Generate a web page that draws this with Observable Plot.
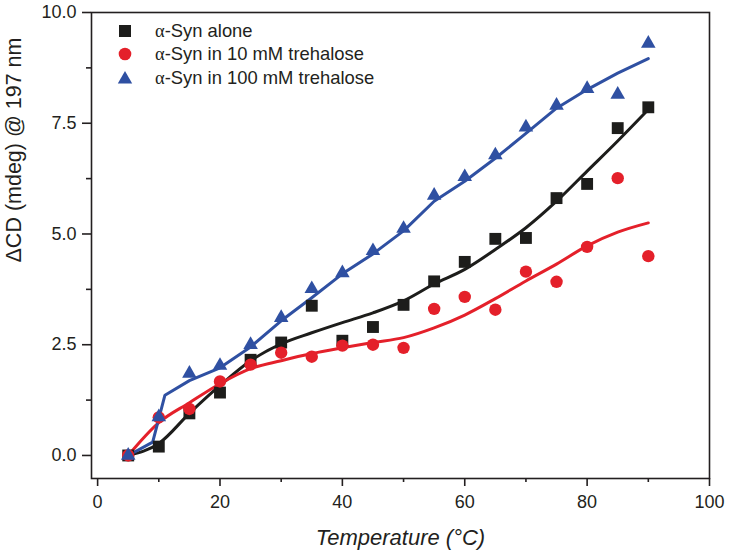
<!DOCTYPE html>
<html>
<head>
<meta charset="utf-8">
<script src="https://cdn.jsdelivr.net/npm/d3@7"></script>
<script src="https://cdn.jsdelivr.net/npm/@observablehq/plot@0.6"></script>
<style>
  body { margin: 0; background: #fff; }
  #wrap { position: relative; width: 729px; height: 553px; font-family: "Liberation Sans", Arial, sans-serif; color: #231f20; }
  #legend { position: absolute; left: 114px; top: 19px; font-size: 18.4px; line-height: 23.5px; }
  #legend .row { display: flex; align-items: center; height: 23.5px; }
  #legend svg { width: 22px; height: 22px; margin-right: 19px; }
  .alpha { font-family: "Liberation Serif", "Times New Roman", serif; }
</style>
</head>
<body>
<div id="wrap"></div>
<script>
// Measured data (temperature in °C, ΔCD in mdeg @ 197 nm)
const temps = [5, 10, 15, 20, 25, 30, 35, 40, 45, 50, 55, 60, 65, 70, 75, 80, 85, 90];
const synAlone = [0, 0.2, 0.95, 1.42, 2.16, 2.55, 3.38, 2.59, 2.9, 3.40, 3.93, 4.37, 4.89, 4.91, 5.81, 6.13, 7.39, 7.86];
const syn10 = [0, 0.86, 1.05, 1.67, 2.05, 2.32, 2.23, 2.48, 2.5, 2.43, 3.31, 3.58, 3.29, 4.15, 3.92, 4.71, 6.26, 4.50];
const syn100 = [0, 0.87, 1.85, 2.03, 2.5, 3.11, 3.76, 4.12, 4.62, 5.12, 5.87, 6.29, 6.78, 7.41, 7.9, 8.28, 8.15, 9.3];

// Fitted curves
const fitTemps = [5, 10, 15, 20, 25, 30, 35, 40, 45, 50, 55, 60, 65, 70, 75, 80, 85, 90];
const fitAlone = [0, 0.27, 0.95, 1.58, 2.14, 2.52, 2.77, 3.0, 3.22, 3.49, 3.87, 4.2, 4.65, 5.14, 5.74, 6.42, 7.1, 7.81];
const fit10 = [0, 0.74, 1.19, 1.62, 1.96, 2.14, 2.3, 2.43, 2.55, 2.66, 2.88, 3.17, 3.54, 3.94, 4.32, 4.73, 5.04, 5.25];
const fit100Temps = [5, 9, 11, 15, 20, 25, 30, 35, 40, 45, 50, 55, 60, 65, 70, 75, 80, 85, 90];
const fit100 = [0, 0.3, 1.36, 1.69, 1.98, 2.45, 3.04, 3.56, 4.1, 4.55, 5.07, 5.74, 6.19, 6.71, 7.27, 7.84, 8.26, 8.63, 8.96];

const seriesNames = ["α-Syn alone", "α-Syn in 10 mM trehalose", "α-Syn in 100 mM trehalose"];
const colors = ["#1d1d1b", "#e4202a", "#2f50a2"];

const xTicks = [0, 20, 40, 60, 80, 100];
const xMinor = [10, 30, 50, 70, 90];
const yTicks = [0, 2.5, 5, 7.5, 10];
const yMinor = [1.25, 3.75, 6.25, 8.75];

const pts = (xs, ys) => xs.map((x, i) => ({x, y: ys[i]}));
const ink = "#231f20";

const chart = Plot.plot({
  width: 729, height: 553,
  marginLeft: 91, marginRight: 20, marginTop: 12, marginBottom: 75,
  x: {domain: [-1, 100]},
  y: {domain: [-0.52, 10]},
  style: {fontFamily: '"Liberation Sans", Arial, sans-serif', fontSize: "18px", color: ink, background: "#fff"},
  marks: [
    Plot.line(pts(fitTemps, fitAlone), {x: "x", y: "y", stroke: colors[0], strokeWidth: 3, curve: "monotone-x"}),
    Plot.line(pts(fitTemps, fit10), {x: "x", y: "y", stroke: colors[1], strokeWidth: 3, curve: "monotone-x"}),
    Plot.line(pts(fit100Temps, fit100), {x: "x", y: "y", stroke: colors[2], strokeWidth: 3, curve: "linear"}),
    Plot.dot(pts(temps, synAlone), {x: "x", y: "y", symbol: "square", r: 6.7, fill: colors[0], stroke: "none"}),
    Plot.dot(pts(temps, syn10), {x: "x", y: "y", symbol: "circle", r: 6.2, fill: colors[1], stroke: "none"}),
    Plot.dot(pts(temps, syn100), {x: "x", y: "y", symbol: "triangle", r: 5.4, fill: colors[2], stroke: "none"}),
    Plot.frame({stroke: ink, strokeWidth: 1.6}),
    Plot.axisX({ticks: xTicks, tickSize: 8, tickPadding: 9, tickFormat: d => String(d), label: null, strokeWidth: 1.6, fill: ink}),
    Plot.axisX({ticks: xMinor, tickSize: 4, text: null, label: null, strokeWidth: 1.6}),
    Plot.axisY({ticks: yTicks, tickSize: 9, tickPadding: 6, tickFormat: d => d.toFixed(1), label: null, strokeWidth: 1.6, fill: ink}),
    Plot.axisY({ticks: yMinor, tickSize: 5, text: null, label: null, strokeWidth: 1.6}),
    Plot.text(["Temperature (°C)"], {frameAnchor: "bottom", dy: 59, lineAnchor: "middle", fontSize: 22, fontStyle: "italic", fill: ink}),
    Plot.text(["ΔCD (mdeg) @ 197 nm"], {frameAnchor: "left", rotate: -90, dx: -77, dy: 17, lineAnchor: "middle", fontSize: 21.5, fill: ink})
  ]
});

const wrap = document.getElementById("wrap");
wrap.appendChild(chart);

// Legend overlay
const legend = document.createElement("div");
legend.id = "legend";
const symbolSvg = [
  `<rect x="5" y="5" width="12" height="12" fill="${colors[0]}"/>`,
  `<circle cx="11" cy="11" r="6.3" fill="${colors[1]}"/>`,
  `<path d="M11 4 L18.2 16.5 L3.8 16.5 Z" fill="${colors[2]}"/>`
];
seriesNames.forEach((name, i) => {
  const row = document.createElement("div");
  row.className = "row";
  const rest = name.slice(1);
  row.innerHTML = `<svg viewBox="0 0 22 22">${symbolSvg[i]}</svg><span><span class="alpha">α</span>${rest}</span>`;
  legend.appendChild(row);
});
wrap.appendChild(legend);
</script>
</body>
</html>
